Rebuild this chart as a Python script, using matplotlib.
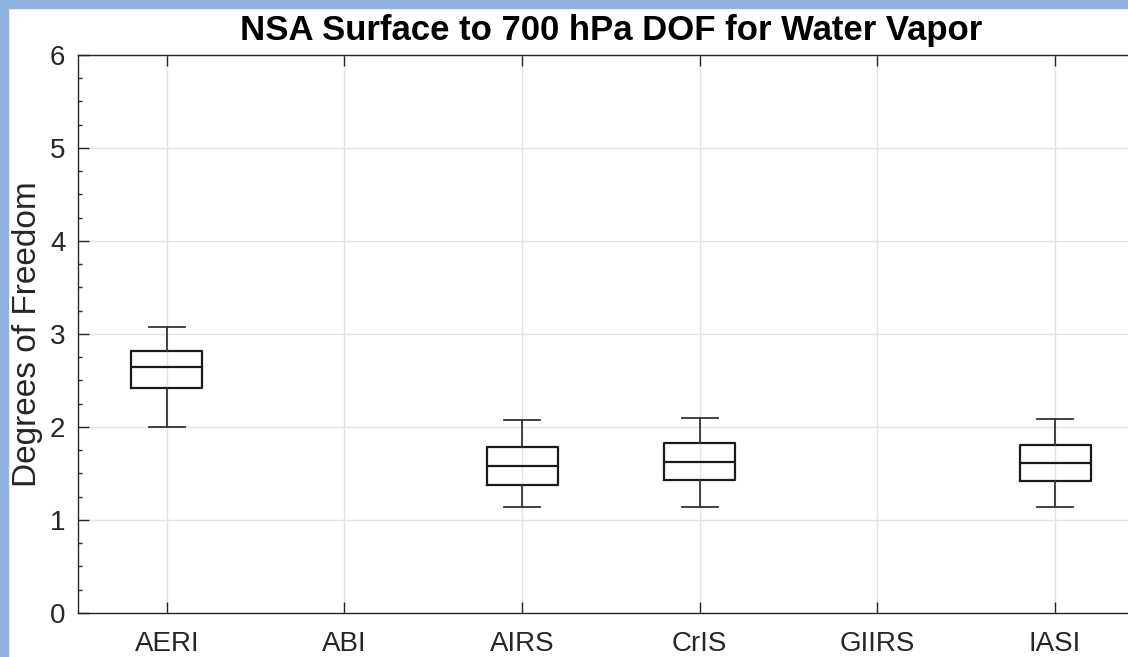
import matplotlib.pyplot as plt
from matplotlib.patches import Rectangle
from matplotlib.ticker import MultipleLocator

# Box statistics for each instrument (None = no data)
instruments = ["AERI", "ABI", "AIRS", "CrIS", "GIIRS", "IASI"]
whis_lo = [2.00, None, 1.14, 1.14, None, 1.14]
q1 = [2.42, None, 1.38, 1.43, None, 1.42]
medians = [2.65, None, 1.58, 1.62, None, 1.61]
q3 = [2.82, None, 1.78, 1.83, None, 1.81]
whis_hi = [3.08, None, 2.07, 2.10, None, 2.09]

plt.rcParams["font.family"] = ["Liberation Sans", "DejaVu Sans"]

fig = plt.figure(figsize=(11.28, 6.57), dpi=100)
ax = fig.add_axes([0.0691, 0.067, 0.945, 0.8493])

stats = []
positions = []
for i, name in enumerate(instruments):
    if medians[i] is None:
        continue
    stats.append(dict(med=medians[i], q1=q1[i], q3=q3[i],
                      whislo=whis_lo[i], whishi=whis_hi[i], fliers=[], label=name))
    positions.append(i + 1)

ax.bxp(stats, positions=positions, widths=0.4, manage_ticks=False,
       boxprops=dict(color="#1a1a1a", linewidth=1.6),
       medianprops=dict(color="#1a1a1a", linewidth=1.6),
       whiskerprops=dict(color="#333333", linewidth=1.3),
       capprops=dict(color="#333333", linewidth=1.3))

ax.set_xlim(0.5, len(instruments) + 0.5)
ax.set_ylim(0, 6)
ax.set_xticks(range(1, len(instruments) + 1))
ax.set_xticklabels(instruments)
ax.yaxis.set_major_locator(MultipleLocator(1))
ax.yaxis.set_minor_locator(MultipleLocator(0.25))

ax.grid(True, which="major", color="#e3e3e3", linewidth=1.0)
ax.set_axisbelow(True)
ax.tick_params(axis="both", which="major", direction="in", length=8, width=1,
               top=True, right=True, labelsize=20, colors="#262626")
ax.tick_params(axis="x", which="major", pad=13)
ax.tick_params(axis="y", which="major", pad=9)
ax.tick_params(axis="x", which="minor", bottom=False, top=False)
ax.tick_params(axis="y", which="minor", direction="in", length=3, width=1,
               left=True, right=False, colors="#262626")
for s in ax.spines.values():
    s.set_color("#262626")
    s.set_linewidth(1.0)

ax.set_ylabel("Degrees of Freedom", fontsize=24, color="#262626", labelpad=5)
ax.set_title("NSA Surface to 700 hPa DOF for Water Vapor", fontsize=25,
             fontweight="bold", pad=11)

# light blue frame along top and left edges
edge = "#8db4e2"
fig.add_artist(Rectangle((0, 1 - 8 / 657), 1, 8 / 657, transform=fig.transFigure,
                         color=edge, zorder=10))
fig.add_artist(Rectangle((0, 0), 8 / 1128, 1, transform=fig.transFigure,
                         color=edge, zorder=10))

fig.savefig("out.png", dpi=100)
